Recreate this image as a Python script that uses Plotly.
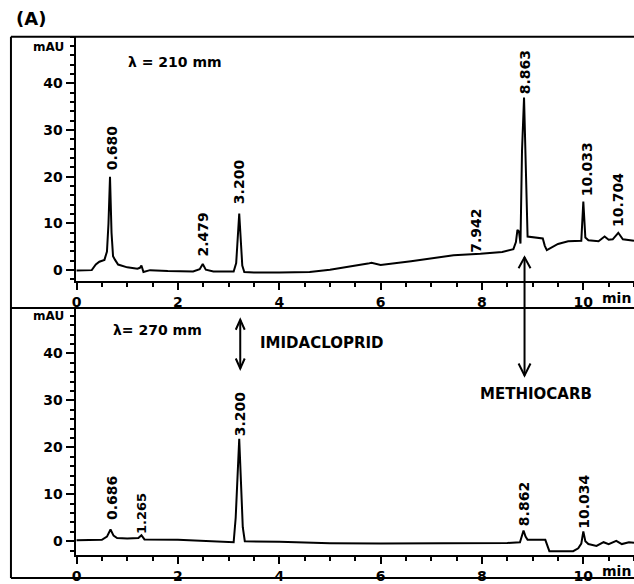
import plotly.graph_objects as go
from plotly.subplots import make_subplots

# ---------------- data ----------------
# Upper chromatogram (lambda = 210)
t_top = [0, 0.3, 0.38, 0.45, 0.55, 0.6, 0.63, 0.66, 0.69, 0.72, 0.76, 0.82, 1.0, 1.2,
         1.25, 1.28, 1.32, 1.45, 1.8, 2.3, 2.43, 2.49, 2.55, 2.7, 3.1, 3.15, 3.21, 3.27,
         3.31, 3.5, 4.0, 4.6, 5.0, 5.5, 5.75, 5.82, 6.0, 6.6, 7.0, 7.44, 7.97, 8.4, 8.62,
         8.67, 8.7, 8.73, 8.76, 8.79, 8.83, 8.86, 8.9, 9.2, 9.24, 9.28, 9.4, 9.5, 9.7,
         9.96, 10.0, 10.04, 10.1, 10.3, 10.42, 10.5, 10.58, 10.69, 10.78, 10.9, 11.0]
mau_top = [-0.1, 0.0, 1.2, 1.8, 2.2, 4.0, 10.0, 20.0, 8.0, 3.0, 2.2, 1.2, 0.6, 0.3,
           0.5, 1.0, -0.4, 0.0, -0.2, -0.3, 0.2, 1.3, 0.1, -0.3, -0.3, 1.5, 12.1, 1.0,
           -0.4, -0.5, -0.5, -0.4, 0.1, 0.9, 1.4, 1.6, 1.1, 1.9, 2.5, 3.2, 3.5, 3.9, 4.5,
           6.0, 8.6, 8.3, 5.7, 25.5, 37.0, 25.0, 7.2, 6.8, 5.2, 4.3, 5.1, 5.6, 6.2,
           6.3, 14.7, 7.0, 6.4, 6.2, 7.2, 6.5, 6.6, 8.0, 6.6, 6.4, 6.3]

# Lower chromatogram (lambda = 270)
t_bot = [0, 0.5, 0.6, 0.67, 0.73, 0.8, 1.0, 1.22, 1.28, 1.34, 2.0, 3.1, 3.14, 3.21, 3.28,
         3.32, 4.0, 5.0, 6.0, 7.0, 8.0, 8.5, 8.75, 8.79, 8.82, 8.86, 8.9, 9.25, 9.33,
         9.8, 9.9, 9.96, 10.0, 10.04, 10.1, 10.26, 10.4, 10.5, 10.65, 10.76, 10.9, 11.0]
mau_bot = [0.2, 0.3, 1.0, 2.5, 1.2, 0.7, 0.6, 0.7, 1.3, 0.4, 0.3, -0.2, 5.0, 21.8, 3.0,
           0.0, -0.1, -0.4, -0.5, -0.5, -0.5, -0.35, -0.2, 1.0, 2.3, 1.0, 0.3, 0.3, -2.1,
           -2.1, -1.5, -0.5, 2.1, 0.0, -0.6, -1.0, -0.2, -0.6, 0.1, -0.6, -0.2, -0.3]

# Peak labels (retention time text, x position, label centre height in mAU)
top_labels = ["0.680", "2.479", "3.200", "7.942", "8.863", "10.033", "10.704"]
top_label_t = [0.69, 2.50, 3.21, 7.89, 8.84, 10.06, 10.67]
top_label_y = [26.2, 7.7, 18.9, 8.5, 42.3, 21.7, 15.1]

bot_labels = ["0.686", "1.265", "3.200", "8.862", "10.034"]
bot_label_t = [0.69, 1.28, 3.23, 8.82, 10.02]
bot_label_y = [9.1, 5.9, 27.1, 7.8, 8.5]

x_ticks = [0, 2, 4, 6, 8, 10]
y_ticks = [0, 10, 20, 30, 40]

imidacloprid_t = 3.23
methiocarb_t = 8.84

# ---------------- geometry helpers ----------------
W, H = 634, 584
X0 = 72


def px(x):
    return x / W


def py(y):
    return 1 - y / H


FONT = "DejaVu Sans"

fig = make_subplots(rows=2, cols=1)

fig.add_trace(go.Scatter(x=t_top, y=mau_top, mode="lines",
                         line=dict(color="black", width=2), showlegend=False,
                         hoverinfo="skip"), row=1, col=1)
fig.add_trace(go.Scatter(x=t_bot, y=mau_bot, mode="lines",
                         line=dict(color="black", width=2), showlegend=False,
                         hoverinfo="skip"), row=2, col=1)

xdom = [px(X0), 1.0]
xrange_ = [-0.02, 11.0]
axis_common_x = dict(
    range=xrange_, domain=xdom, tickvals=x_ticks, ticktext=[str(v) for v in x_ticks],
    showline=True, linecolor="black", linewidth=2, ticks="outside", ticklen=7,
    tickwidth=2, tickcolor="black", showgrid=False, zeroline=False,
    tickfont=dict(family=FONT, size=14, color="black", weight="bold"),
    minor=dict(dtick=0.5, tick0=0, ticks="outside", ticklen=4, tickwidth=2,
               tickcolor="black", showgrid=False),
)
axis_common_y = dict(
    tickvals=y_ticks, showline=True, linecolor="black", linewidth=2,
    ticks="outside", ticklen=8, tickwidth=2, tickcolor="black", showgrid=False,
    zeroline=False,
    tickfont=dict(family=FONT, size=14, color="black", weight="bold"),
    minor=dict(dtick=2, tick0=0, ticks="outside", ticklen=4, tickwidth=2,
               tickcolor="black", showgrid=False),
)

fig.update_layout(
    width=W, height=H,
    margin=dict(l=0, r=0, t=0, b=0),
    paper_bgcolor="white", plot_bgcolor="white",
    font=dict(family=FONT, color="black"),
    xaxis=dict(axis_common_x, anchor="y"),
    xaxis2=dict(axis_common_x, anchor="y2"),
    yaxis=dict(axis_common_y, domain=[py(283), py(37)], range=[-2.34, 50.0], anchor="x"),
    yaxis2=dict(axis_common_y, domain=[py(559), py(310)], range=[-2.96, 49.7], anchor="x2"),
)

shapes = []
# outer frame lines
lw = 2
shapes.append(dict(type="line", xref="paper", yref="paper", x0=px(7), x1=px(7),
                   y0=py(37), y1=py(582), line=dict(color="black", width=lw)))
shapes.append(dict(type="line", xref="paper", yref="paper", x0=px(7), x1=1,
                   y0=py(37), y1=py(37), line=dict(color="black", width=lw)))
shapes.append(dict(type="line", xref="paper", yref="paper", x0=px(7), x1=1,
                   y0=py(310), y1=py(310), line=dict(color="black", width=lw)))
shapes.append(dict(type="line", xref="paper", yref="paper", x0=px(7), x1=1,
                   y0=py(582), y1=py(582), line=dict(color="black", width=lw)))

# methiocarb double arrow (spans both panels)
mpp = (xrange_[1] - xrange_[0]) / (W - X0)  # minutes per pixel
shapes.append(dict(type="line", xref="x", yref="paper", x0=methiocarb_t, x1=methiocarb_t,
                   y0=py(259), y1=py(378), line=dict(color="black", width=2)))
shapes.append(dict(type="path", xref="x", yref="paper",
                   path=f"M {methiocarb_t - 6*mpp},{py(270)} L {methiocarb_t},{py(259)} L {methiocarb_t + 6*mpp},{py(270)}",
                   line=dict(color="black", width=2)))
shapes.append(dict(type="path", xref="x", yref="paper",
                   path=f"M {methiocarb_t - 6*mpp},{py(366)} L {methiocarb_t},{py(378)} L {methiocarb_t + 6*mpp},{py(366)}",
                   line=dict(color="black", width=2)))

# imidacloprid double arrow
shapes.append(dict(type="line", xref="x", yref="paper", x0=imidacloprid_t, x1=imidacloprid_t,
                   y0=py(322), y1=py(371), line=dict(color="black", width=2)))
shapes.append(dict(type="path", xref="x", yref="paper",
                   path=f"M {imidacloprid_t - 4.5*mpp},{py(332)} L {imidacloprid_t},{py(322)} L {imidacloprid_t + 4.5*mpp},{py(332)}",
                   line=dict(color="black", width=2)))
shapes.append(dict(type="path", xref="x", yref="paper",
                   path=f"M {imidacloprid_t - 4.5*mpp},{py(361)} L {imidacloprid_t},{py(371)} L {imidacloprid_t + 4.5*mpp},{py(361)}",
                   line=dict(color="black", width=2)))
fig.update_layout(shapes=shapes)

ann = []
bold = dict(family=FONT, color="black", weight="bold")

for txt, t, yv in zip(top_labels, top_label_t, top_label_y):
    ann.append(dict(x=t, y=yv, xref="x", yref="y", text=txt, showarrow=False,
                    textangle=-90, font=dict(bold, size=14), xanchor="center", yanchor="middle"))
for txt, t, yv in zip(bot_labels, bot_label_t, bot_label_y):
    ann.append(dict(x=t, y=yv, xref="x2", yref="y2", text=txt, showarrow=False,
                    textangle=-90, font=dict(bold, size=13 if txt == "1.265" else 14),
                    xanchor="center", yanchor="middle"))


def txt_ann(text, x, y, size, xanchor="center"):
    return dict(x=px(x), y=py(y), xref="paper", yref="paper", text=text, showarrow=False,
                font=dict(bold, size=size), xanchor=xanchor, yanchor="middle")


ann.append(txt_ann("(A)", 10, 19, 18, "left"))
ann.append(txt_ann("mAU", 45, 47, 12))
ann.append(txt_ann("mAU", 45, 318, 12))
ann.append(txt_ann("λ = 210 mm", 123, 62, 14, "left"))
ann.append(txt_ann("λ= 270 mm", 108, 332, 14, "left"))
ann.append(txt_ann("IMIDACLOPRID", 256, 345, 15, "left"))
ann.append(txt_ann("METHIOCARB", 477, 397, 15, "left"))
ann.append(txt_ann("min", 633, 300, 14, "right"))
ann.append(txt_ann("min", 633, 575, 14, "right"))
fig.update_layout(annotations=ann)

fig.write_html(
    "out.html",
    config={"displayModeBar": False},
    post_script="document.body.style.margin='0';document.body.style.overflow='hidden';",
)
